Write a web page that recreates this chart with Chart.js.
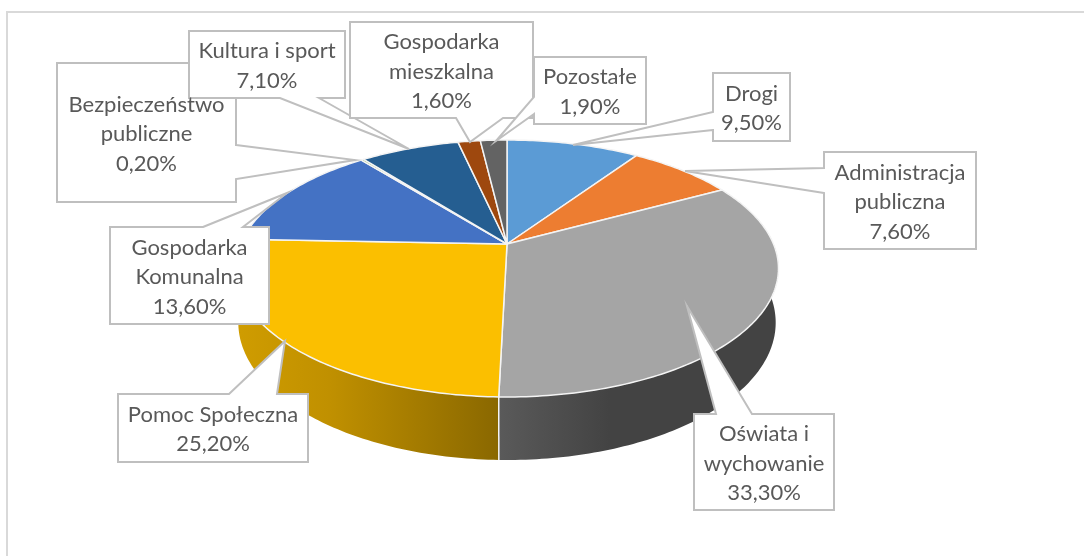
<!DOCTYPE html>
<html>
<head>
<meta charset="utf-8">
<style>
  html, body { margin: 0; background: #fff; }
  canvas { display: block; }
</style>
<script src="https://cdn.jsdelivr.net/npm/chart.js@4"></script>
</head>
<body>
<canvas id="chart" width="1084" height="556"></canvas>
<script>
const categories = [
  'Drogi',
  'Administracja\npubliczna',
  'Oświata i\nwychowanie',
  'Pomoc Społeczna',
  'Gospodarka\nKomunalna',
  'Bezpieczeństwo\npubliczne',
  'Kultura i sport',
  'Gospodarka\nmieszkalna',
  'Pozostałe',
];
const values = [9.5, 7.6, 33.3, 25.2, 13.6, 0.2, 7.1, 1.6, 1.9];
const colors = ['#5B9BD5', '#ED7D31', '#A5A5A5', '#FBBF00', '#4472C4', '#70AD47', '#255E91', '#9E480E', '#636363'];

// side wall colours, left to right [colour, x]
const WALLS = {
  2: [['#5a5a5a', 498], ['#434343', 610]],
  3: [['#cf9c00', 240], ['#c09000', 330], ['#8a6800', 498]],
};

// perspective of the disc, fitted on the picture
const CX = 507, CY = 244, A = 266.5, B = 123.8, K = 0.1906;
const DEPTH = 53.2, SHRINK = 0.01;

function project(theta, bottom) {
  const u = Math.sin(theta), v = -Math.cos(theta);
  const w = 1 - K * v + (bottom ? SHRINK : 0);
  return [CX + A * u / w, CY + (B * v + (bottom ? DEPTH : 0)) / w];
}

function rim(ctx, from, to, bottom, first) {
  const n = Math.max(2, Math.ceil(Math.abs(to - from) * 60));
  for (let i = 0; i <= n; i++) {
    const p = project(from + (to - from) * i / n, bottom);
    if (i === 0 && first) ctx.moveTo(p[0], p[1]);
    else ctx.lineTo(p[0], p[1]);
  }
}

// drawn by the library's arc angles, only bent into perspective
const pie3d = {
  id: 'pie3d',
  beforeDatasetsDraw(chart) {
    const ctx = chart.ctx;
    const arcs = chart.getDatasetMeta(0).data;
    const angle = a => a + Math.PI / 2;

    ctx.save();
    ctx.lineJoin = 'round';
    arcs.forEach((arc, i) => {
      if (!WALLS[i]) return;
      const from = angle(arc.startAngle), to = angle(arc.endAngle);
      const stops = WALLS[i];
      const x0 = stops[0][1], x1 = stops[stops.length - 1][1];
      const grad = ctx.createLinearGradient(x0, 0, x1, 0);
      stops.forEach(s => grad.addColorStop((s[1] - x0) / (x1 - x0), s[0]));
      ctx.beginPath();
      rim(ctx, from, to, false, true);
      rim(ctx, to, from, true, false);
      ctx.closePath();
      ctx.fillStyle = grad;
      ctx.fill();
    });
    // white seam between the two walls
    const seam = angle(arcs[2].endAngle);
    const a = project(seam, false), b = project(seam, true);
    ctx.strokeStyle = '#f4f4f4';
    ctx.lineWidth = 1.5;
    ctx.beginPath();
    ctx.moveTo(a[0], a[1]);
    ctx.lineTo(b[0], b[1]);
    ctx.stroke();

    arcs.forEach(arc => {
      ctx.beginPath();
      ctx.moveTo(CX, CY);
      rim(ctx, angle(arc.startAngle), angle(arc.endAngle), false, false);
      ctx.closePath();
      ctx.fillStyle = arc.options.backgroundColor;
      ctx.fill();
      ctx.strokeStyle = '#f4f4f4';
      ctx.lineWidth = 1.5;
      ctx.stroke();
    });
    ctx.restore();
    return false;
  },
};

// callout boxes: [left, top, right, bottom], pointer goes from the box edge to the tip
const CALLOUTS = [
  { i: 5, box: [57, 63, 236, 202], ptr: [[236, 145], [355, 160], [236, 179]] },
  { i: 6, box: [189, 31, 345, 98], ptr: [[280, 98], [409, 149], [319, 98]] },
  { i: 7, box: [350, 22, 533, 118], ptr: [[456, 118], [470, 142], [503, 118]] },
  { i: 8, box: [534, 57, 646, 124], ptr: [[534, 97], [496, 141], [534, 114]] },
  { i: 0, box: [713, 73, 790, 141], ptr: [[713, 112], [573, 145], [713, 130]] },
  { i: 1, box: [824, 152, 976, 249], ptr: [[824, 168], [685, 171], [824, 193]] },
  { i: 2, box: [694, 414, 834, 510], ptr: [[716, 414], [687, 306], [752, 414]] },
  { i: 3, box: [118, 394, 308, 462], ptr: [[229, 394], [285, 341], [277, 394]] },
  { i: 4, box: [110, 227, 269, 324], ptr: [[203, 227], [287, 193], [243, 227]] },
];

function calloutPath(ctx, c) {
  const [l, t, r, b] = c.box;
  const corners = [[l, t], [r, t], [r, b], [l, b]];
  const edgeOf = p => p[1] === t ? 0 : p[0] === r ? 1 : p[1] === b ? 2 : 3;
  const start = c.ptr[0], end = c.ptr[2];
  const edge = edgeOf(start);
  const forward = edge === 0 ? start[0] < end[0] : edge === 1 ? start[1] < end[1] : edge === 2 ? start[0] > end[0] : start[1] > end[1];
  const pts = forward ? c.ptr : c.ptr.slice().reverse();
  ctx.beginPath();
  ctx.moveTo(pts[0][0], pts[0][1]);
  ctx.lineTo(pts[1][0], pts[1][1]);
  ctx.lineTo(pts[2][0], pts[2][1]);
  for (let k = 1; k <= 4; k++) {
    const corner = corners[(edge + k) % 4];
    ctx.lineTo(corner[0], corner[1]);
  }
  ctx.closePath();
}

const callouts = {
  id: 'callouts',
  afterDraw(chart) {
    const ctx = chart.ctx;
    ctx.save();
    // frame, only top and left are in the picture
    ctx.strokeStyle = '#d9d9d9';
    ctx.lineWidth = 2;
    ctx.beginPath();
    ctx.moveTo(7, 556);
    ctx.lineTo(7, 12);
    ctx.lineTo(1084, 12);
    ctx.stroke();

    CALLOUTS.forEach(c => {
      calloutPath(ctx, c);
      ctx.fillStyle = '#fff';
      ctx.fill();
      ctx.strokeStyle = '#bfbfbf';
      ctx.lineWidth = 2;
      ctx.lineJoin = 'miter';
      ctx.stroke();
    });
    // text after all boxes, Kultura's border does not cut it
    ctx.fillStyle = '#595959';
    ctx.font = '22px Lato';
    ctx.textAlign = 'center';
    ctx.textBaseline = 'alphabetic';
    CALLOUTS.forEach(c => {
      const lines = categories[c.i].split('\n');
      lines.push(values[c.i].toFixed(2).replace('.', ',') + '%');
      const mx = (c.box[0] + c.box[2]) / 2, my = (c.box[1] + c.box[3]) / 2;
      lines.forEach((line, k) => {
        ctx.fillText(line, mx, my + 8.5 + (k - (lines.length - 1) / 2) * 29.5);
      });
    });
    ctx.restore();
  },
};

new Chart(document.getElementById('chart'), {
  type: 'pie',
  data: {
    labels: categories,
    datasets: [{ data: values, backgroundColor: colors }],
  },
  options: {
    responsive: false,
    animation: false,
    plugins: { legend: { display: false }, tooltip: { enabled: false } },
  },
  plugins: [pie3d, callouts],
});
</script>
</body>
</html>
